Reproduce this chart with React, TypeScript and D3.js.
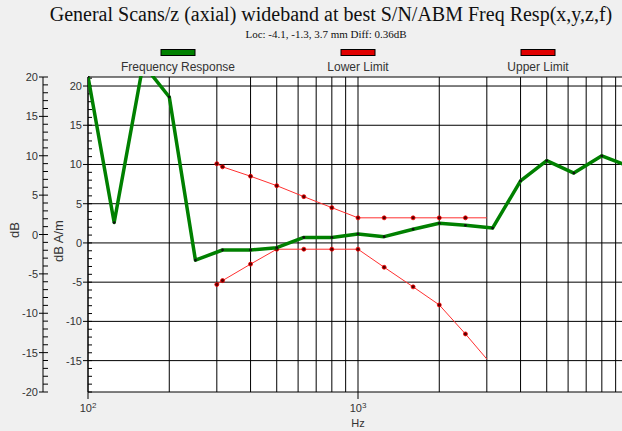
import React from "react";
import * as d3 from "d3";

const width = 622;
const height = 431;
const plot = { left: 88, right: 628, top: 77, bottom: 392 };
const outerAxisX = 43;

// frequency response (dB A/m) at third-octave points
const respFreqs = [100, 125, 160, 200, 250, 315, 400, 500, 630, 800, 1000, 1250, 1600, 2000, 2500, 3150, 4000, 5000, 6300, 8000, 10000];
const respValues = [21.2, 2.6, 22.8, 18.6, -2.2, -0.9, -0.9, -0.6, 0.7, 0.7, 1.15, 0.8, 1.75, 2.5, 2.25, 1.9, 7.9, 10.5, 8.9, 11.1, 9.8];

// limit lines
const limitFreqs = [300, 315, 400, 500, 630, 800, 1000, 1250, 1600, 2000, 2500, 3000];
const lowerLimit = [-5.3, -4.8, -2.7, -0.8, -0.8, -0.8, -0.8, -3.1, -5.6, -7.9, -11.6, -14.8];
const upperLimit = [10.1, 9.7, 8.5, 7.3, 5.9, 4.5, 3.2, 3.2, 3.2, 3.2, 3.2, 3.2];

const outerTicks = [-20, -15, -10, -5, 0, 5, 10, 15, 20];
const innerTicks = [-15, -10, -5, 0, 5, 10, 15, 20];
const decadeTicks = [100, 1000];

const legendItems = [
  { label: "Frequency Response", color: "#008000", cx: 178 },
  { label: "Lower Limit", color: "#e00000", cx: 358 },
  { label: "Upper Limit", color: "#e00000", cx: 538 }
];

const sans = "'Liberation Sans', Arial, sans-serif";
const serif = "'Liberation Serif', 'Times New Roman', serif";

export default function App() {
  const x = d3.scaleLog().domain([100, 10000]).range([plot.left, plot.right]);
  const yInner = d3.scaleLinear().domain([-19, 21.15]).range([plot.bottom, plot.top]);
  const yOuter = d3.scaleLinear().domain([-20, 20]).range([plot.bottom, plot.top]);

  const gridFreqs: number[] = [];
  for (const dec of [100, 1000]) for (let m = 1; m <= 9; m++) gridFreqs.push(dec * m);
  gridFreqs.push(10000);

  const line = d3
    .line<[number, number]>()
    .x((d) => x(d[0]))
    .y((d) => yInner(d[1]));

  const resp = respFreqs.map((f, i) => [f, respValues[i]] as [number, number]);
  const lower = limitFreqs.map((f, i) => [f, lowerLimit[i]] as [number, number]);
  const upper = limitFreqs.map((f, i) => [f, upperLimit[i]] as [number, number]);

  const outerMinor = d3.range(-20, 21, 1);
  const innerMinor = d3.range(-19, 22, 1);

  return (
    <div style={{ position: "fixed", left: 0, top: 0 }}>
      <svg width={width} height={height} style={{ display: "block" }}>
        <defs>
          <clipPath id="plotClip">
            <rect x={plot.left} y={plot.top - 1} width={plot.right - plot.left} height={plot.bottom - plot.top + 1} />
          </clipPath>
        </defs>
        <rect width={width} height={height} fill="#f0f0f0" />
        <rect x={plot.left} y={plot.top} width={plot.right - plot.left} height={plot.bottom - plot.top} fill="#fff" />

        <text x={331} y={21} textAnchor="middle" fontFamily={serif} fontSize={20} fill="#111">
          General Scans/z (axial) wideband at best S/N/ABM Freq Resp(x,y,z,f)
        </text>
        <text x={326} y={37.5} textAnchor="middle" fontFamily={serif} fontSize={11} fill="#111">
          Loc: -4.1, -1.3, 3.7 mm Diff: 0.36dB
        </text>

        {legendItems.map((d) => (
          <g key={d.label}>
            <rect x={d.cx - 17} y={49.5} width={34} height={6} fill={d.color} stroke="#000" strokeWidth={1} />
            <text x={d.cx} y={71} textAnchor="middle" fontFamily={sans} fontSize={12} fill="#333">
              {d.label}
            </text>
          </g>
        ))}

        {/* grid */}
        <g stroke="#000" strokeWidth={1}>
          {gridFreqs.map((f) => (
            <line key={f} x1={x(f)} x2={x(f)} y1={plot.top} y2={plot.bottom} />
          ))}
          {innerTicks.map((t) => (
            <line key={t} x1={plot.left} x2={plot.right} y1={yInner(t)} y2={yInner(t)} />
          ))}
          <line x1={plot.left} x2={plot.right} y1={plot.top} y2={plot.top} />
          <line x1={plot.left} x2={plot.right} y1={plot.bottom} y2={plot.bottom} />
          <line x1={plot.left} x2={plot.left} y1={plot.top} y2={plot.bottom} />
        </g>

        {/* inner axis */}
        <g stroke="#000">
          {innerMinor.map((t) => (
            <line key={t} x1={plot.left} x2={plot.left + 4} y1={yInner(t)} y2={yInner(t)} />
          ))}
          {innerTicks.map((t) => (
            <line key={t} x1={plot.left - 5} x2={plot.left} y1={yInner(t)} y2={yInner(t)} />
          ))}
        </g>
        {innerTicks.map((t) => (
          <text key={t} x={plot.left - 6} y={yInner(t) + 4} textAnchor="end" fontFamily={sans} fontSize={11} fill="#333">
            {t}
          </text>
        ))}

        {/* outer axis */}
        <g stroke="#000">
          <line x1={outerAxisX} x2={outerAxisX} y1={plot.top} y2={plot.bottom} />
          {outerMinor.map((t) => (
            <line key={t} x1={outerAxisX} x2={outerAxisX + 5} y1={yOuter(t)} y2={yOuter(t)} />
          ))}
          {outerTicks.map((t) => (
            <line key={t} x1={outerAxisX - 4} x2={outerAxisX} y1={yOuter(t)} y2={yOuter(t)} />
          ))}
        </g>
        {outerTicks.map((t) => (
          <text key={t} x={outerAxisX - 5} y={yOuter(t) + 4} textAnchor="end" fontFamily={sans} fontSize={11} fill="#333">
            {t}
          </text>
        ))}

        <text transform="translate(19,230) rotate(-90)" textAnchor="middle" fontFamily={sans} fontSize={13} fill="#333">
          dB
        </text>
        <text transform="translate(63,241) rotate(-90)" textAnchor="middle" fontFamily={sans} fontSize={13} fill="#333">
          dB A/m
        </text>

        {/* x axis ticks */}
        <g stroke="#000">
          {decadeTicks.map((f) => (
            <line key={f} x1={x(f)} x2={x(f)} y1={plot.bottom} y2={plot.bottom + 7} />
          ))}
        </g>
        {decadeTicks.map((f) => (
          <text key={f} x={x(f)} y={412} textAnchor="middle" fontFamily={sans} fontSize={11} fill="#333">
            10
            <tspan fontSize={8} dy={-4}>
              {Math.log10(f)}
            </tspan>
          </text>
        ))}
        <text x={x(1000)} y={427} textAnchor="middle" fontFamily={sans} fontSize={11} fill="#333">
          Hz
        </text>

        {/* series */}
        <g clipPath="url(#plotClip)">
          <path d={line(lower) || ""} fill="none" stroke="#ff3030" strokeWidth={1} />
          <path d={line(upper) || ""} fill="none" stroke="#ff3030" strokeWidth={1} />
          {[...lower.slice(0, -1), ...upper.slice(0, -1)].map((d, i) => (
            <circle key={i} cx={x(d[0])} cy={yInner(d[1])} r={2} fill="#500" stroke="#f00" strokeWidth={0.8} />
          ))}
          <path d={line(resp) || ""} fill="none" stroke="#008000" strokeWidth={3.5} strokeLinejoin="round" />
          {resp.map((d, i) => (
            <circle key={i} cx={x(d[0])} cy={yInner(d[1])} r={1.4} fill="#111" />
          ))}
        </g>
      </svg>
    </div>
  );
}
